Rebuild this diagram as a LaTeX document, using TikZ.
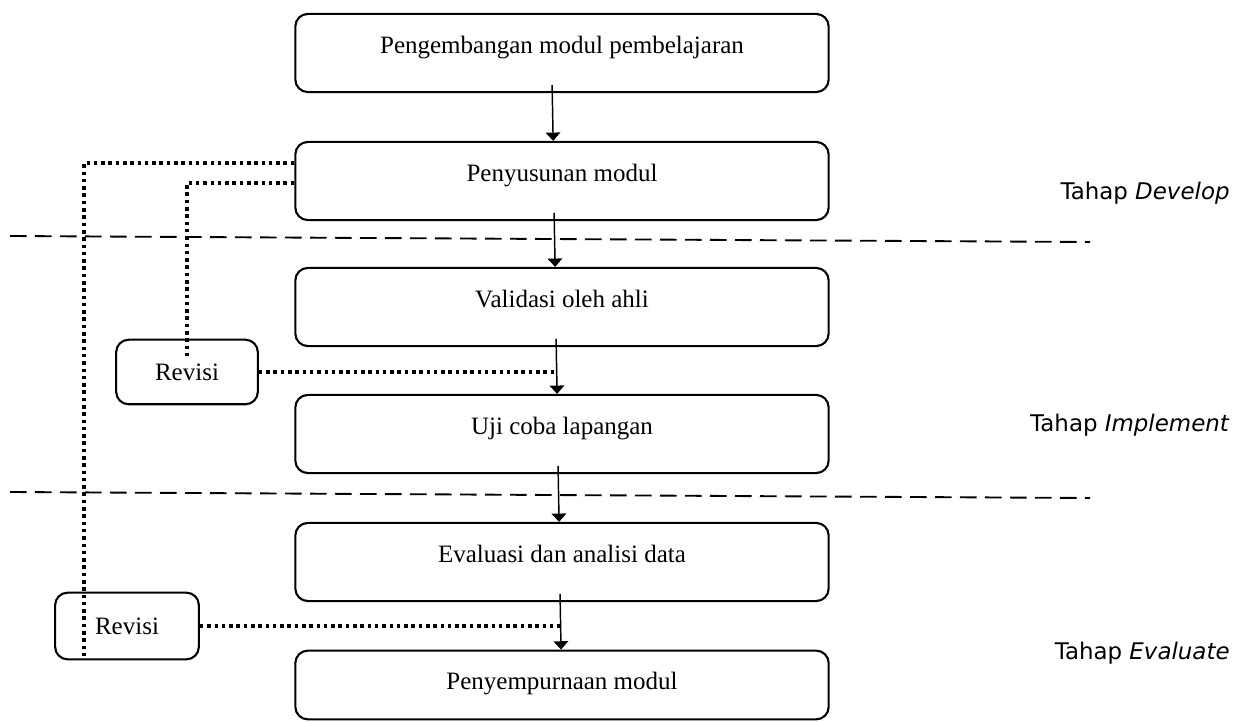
\documentclass[tikz,border=0pt]{standalone}
\usepackage{fontspec}
\setmainfont{Liberation Serif}
\newfontfamily\tahapfont{DejaVu Sans}
\usetikzlibrary{arrows.meta}

\tikzset{
  langkah/.style={draw, line width=1pt, rounded corners=6pt,
    minimum width=256pt, minimum height=37.5pt,
    text height=8pt, text depth=7.8pt, font=\fontsize{12}{14}\selectfont},
  revisi/.style={draw, line width=1pt, rounded corners=6pt,
    minimum width=68pt, minimum height=31pt, font=\fontsize{12}{14}\selectfont},
  alur/.style={-{Triangle[width=7pt,length=4pt]}, line width=0.7pt},
  balik/.style={line width=1.8pt, dash pattern=on 1.7pt off 1.8pt},
  batas/.style={line width=0.9pt, dash pattern=on 8pt off 4pt},
  tahap/.style={anchor=east, inner sep=0pt, font=\tahapfont\fontsize{11}{13}\selectfont}
}

\begin{document}
\begin{tikzpicture}[x=0.48pt,y=-0.48pt]
\useasboundingbox (0,0) rectangle (1237,722);

% kotak utama
\node[langkah] (b1) at (562,53) {Pengembangan modul pembelajaran};
\node[langkah] (b2) at (562,181) {Penyusunan modul};
\node[langkah] (b3) at (562,307) {Validasi oleh ahli};
\node[langkah] (b4) at (562,434) {Uji coba lapangan};
\node[langkah] (b5) at (562,562) {Evaluasi dan analisi data};
\node[langkah,minimum height=33pt,text depth=4pt] (b6) at (562,685) {Penyempurnaan modul};

% kotak revisi
\node[revisi] (r1) at (187,372) {Revisi};
\node[revisi,minimum width=69pt,minimum height=32pt] (r2) at (127,626) {Revisi};

% panah antar langkah
\foreach \a/\b/\dx in {b1/b2/5,b2/b3/4,b3/b4/3,b4/b5/2,b5/b6/1}
\draw[alur] ([xshift=-\dx*0.95pt,yshift=4pt]\a.south) -- coordinate[pos=0.55] (m\a)
  ([xshift=-\dx*0.95pt+0.5pt]\b.north);

% garis balik revisi
\draw[balik] (r1.east) -- (r1.east -| mb3);
\draw[balik] (r2.east) -- (r2.east -| mb5);
\draw[balik] ([yshift=-1pt]b2.west) -| ([yshift=-9pt]r1.north);
\draw[balik] ([yshift=8.6pt]b2.west) -| ([xshift=-20.6pt,yshift=2pt]r2.south);

% batas tahap
\draw[batas] (10,236) -- (1090,242);
\draw[batas] (10,492) -- (1090,498);

\node[tahap] (t1) at (1230,193) {Tahap \textit{Develop}};
\node[tahap] (t2) at (1230,425) {Tahap \textit{Implement}};
\node[tahap] (t3) at (1230,653) {Tahap \textit{Evaluate}};
\end{tikzpicture}
\end{document}
